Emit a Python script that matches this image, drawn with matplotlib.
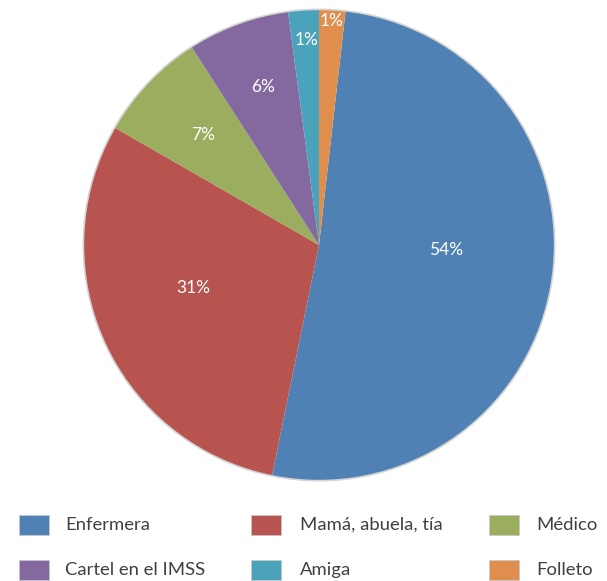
import numpy as np
import matplotlib.pyplot as plt
from matplotlib.patches import Rectangle, Circle

# data (slice sizes, labels as printed on the chart)
categories = ['Enfermera', 'Mamá, abuela, tía', 'Médico', 'Cartel en el IMSS', 'Amiga', 'Folleto']
values = [51.4, 30.1, 7.6, 7.0, 2.1, 1.8]
pct_labels = ['54%', '31%', '7%', '6%', '1%', '1%']
colors = ['#4F81B5', '#B85450', '#9BAD5E', '#8369A0', '#4AA3BB', '#E08E4E']

# label placement: fraction of radius and angle shift (deg) from wedge middle
label_r = [0.54, 0.565, 0.68, 0.71, 0.87, 0.95]
label_shift = [6.8, -5.6, 0, -0.5, -0.3, 0]

W, H = 607, 581
fig = plt.figure(figsize=(W / 100, H / 100), dpi=100)
plt.rcParams['font.family'] = ['Lato', 'DejaVu Sans']

cx, cy, R = 319, 245, 238
ax = fig.add_axes([(cx - R) / W, (H - cy - R) / H, 2 * R / W, 2 * R / H])

total = sum(values)
start = 90 - 360 * values[-1] / total
wedges, _ = ax.pie(values, colors=colors, startangle=start, counterclock=False,
                   radius=1, wedgeprops=dict(linewidth=0))
ax.add_patch(Circle((0, 0), 1.0, fill=False, edgecolor='#d4d4d4', linewidth=1.2, zorder=3))
ax.set_xlim(-1.01, 1.01)
ax.set_ylim(-1.01, 1.01)
ax.axis('off')

for w, txt, r, s in zip(wedges, pct_labels, label_r, label_shift):
    mid = np.deg2rad((w.theta1 + w.theta2) / 2 + s)
    ax.text(r * np.cos(mid), r * np.sin(mid), txt, color='white', fontsize=12.5,
            ha='center', va='center', zorder=4)

# legend, 3 columns x 2 rows like the original
box_x = [19, 251, 489]
text_x = [65, 300, 536]
row_y = [525, 570]
for i, (name, c) in enumerate(zip(categories, colors)):
    col, row = i % 3, i // 3
    y0 = row_y[row]
    fig.patches.append(Rectangle((box_x[col] / W, (H - y0 - 10) / H), 30 / W, 20 / H,
                                 transform=fig.transFigure, facecolor=c,
                                 edgecolor='#c8c8c8', linewidth=0.5))
    fig.text(text_x[col] / W, (H - y0) / H, name, fontsize=13.3, color='#404040',
             ha='left', va='center')

fig.savefig('out.png', dpi=100)
